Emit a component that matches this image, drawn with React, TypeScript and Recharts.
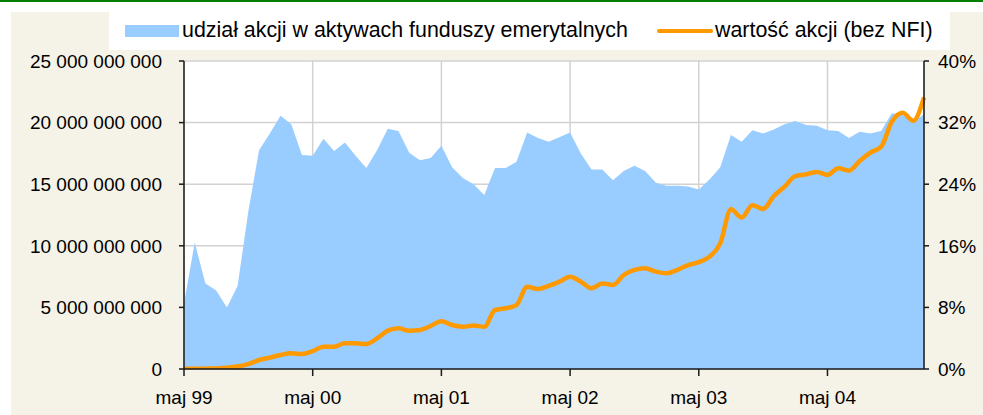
import React from "react";
import {
  ComposedChart,
  Area,
  Line,
  XAxis,
  YAxis,
  CartesianGrid,
  Legend,
} from "recharts";

const months: string[] = [
  "maj 99", "cze 99", "lip 99", "sie 99", "wrz 99", "paź 99", "lis 99", "gru 99",
  "sty 00", "lut 00", "mar 00", "kwi 00", "maj 00", "cze 00", "lip 00", "sie 00",
  "wrz 00", "paź 00", "lis 00", "gru 00", "sty 01", "lut 01", "mar 01", "kwi 01",
  "maj 01", "cze 01", "lip 01", "sie 01", "wrz 01", "paź 01", "lis 01", "gru 01",
  "sty 02", "lut 02", "mar 02", "kwi 02", "maj 02", "cze 02", "lip 02", "sie 02",
  "wrz 02", "paź 02", "lis 02", "gru 02", "sty 03", "lut 03", "mar 03", "kwi 03",
  "maj 03", "cze 03", "lip 03", "sie 03", "wrz 03", "paź 03", "lis 03", "gru 03",
  "sty 04", "lut 04", "mar 04", "kwi 04", "maj 04", "cze 04", "lip 04", "sie 04",
  "wrz 04", "paź 04", "lis 04", "gru 04", "sty 05", "lut 05",
];

// udział akcji w aktywach funduszy emerytalnych (%)
const shareOfEquities: number[] = [
  8.5, 16.4, 11.1, 10.2, 8.0, 10.8, 20.5, 28.4, 30.6, 32.9, 31.8, 27.8,
  27.7, 29.9, 28.3, 29.4, 27.7, 26.1, 28.4, 31.2, 30.9, 28.1, 27.1, 27.4,
  29.0, 26.2, 24.8, 24.0, 22.6, 26.1, 26.1, 26.9, 30.7, 30.0, 29.5, 30.1,
  30.7, 28.0, 25.9, 25.9, 24.5, 25.7, 26.4, 25.7, 24.2, 23.8, 23.8, 23.7,
  23.3, 24.6, 26.2, 30.4, 29.5, 31.0, 30.6, 31.1, 31.8, 32.2, 31.7, 31.6,
  31.0, 30.9, 30.0, 30.8, 30.6, 30.9, 33.2, 33.0, 32.1, 33.1,
];

// wartość akcji (bez NFI), mld zł
const equityValueBn: number[] = [
  0.02, 0.02, 0.03, 0.05, 0.1, 0.2, 0.4, 0.73, 0.92, 1.14, 1.27, 1.22,
  1.45, 1.81, 1.81, 2.08, 2.08, 2.03, 2.49, 3.11, 3.3, 3.11, 3.17, 3.49,
  3.88, 3.57, 3.43, 3.53, 3.43, 4.79, 4.93, 5.19, 6.68, 6.49, 6.74, 7.09,
  7.49, 7.09, 6.55, 6.95, 6.82, 7.63, 8.04, 8.17, 7.9, 7.77, 8.04, 8.44,
  8.67, 9.12, 10.2, 12.96, 12.3, 13.3, 12.99, 14.04, 14.8, 15.66, 15.8, 16.0,
  15.75, 16.29, 16.1, 16.88, 17.56, 18.04, 20.07, 20.8, 20.15, 22.05,
];

const xTicks: string[] = ["maj 99", "maj 00", "maj 01", "maj 02", "maj 03", "maj 04"];
const leftTicks: number[] = [0, 5, 10, 15, 20, 25];
const rightTicks: number[] = [0, 8, 16, 24, 32, 40];
const seriesNames: string[] = [
  "udział akcji w aktywach funduszy emerytalnych",
  "wartość akcji (bez NFI)",
];

const data = months.map((m, i) => ({
  month: m,
  share: shareOfEquities[i],
  value: equityValueBn[i],
}));

const FONT = "'Liberation Sans', Arial, sans-serif";
const FS = 19;
const LFS = 21.4;

const formatBn = (v: number) =>
  v === 0 ? "0" : String(Math.round(v * 1e9)).replace(/\B(?=(\d{3})+(?!\d))/g, " ");

const LegendContent = () => (
  <div
    style={{
      position: "relative",
      width: 841,
      height: 38,
      background: "#ffffff",
      fontFamily: FONT,
      fontSize: LFS,
      color: "#000",
    }}
  >
    <div style={{ position: "absolute", left: 16, top: 13, width: 54, height: 12, background: "#99CCFF" }} />
    <div style={{ position: "absolute", left: 73, top: 6, whiteSpace: "nowrap", lineHeight: "24px" }}>
      {seriesNames[0]}
    </div>
    <div style={{ position: "absolute", left: 548, top: 17, width: 56, height: 4, borderRadius: 2, background: "#FF9900" }} />
    <div style={{ position: "absolute", left: 606, top: 6, whiteSpace: "nowrap", lineHeight: "24px" }}>
      {seriesNames[1]}
    </div>
  </div>
);

export default function App() {
  return (
    <div
      style={{
        position: "absolute",
        left: 0,
        top: 0,
        width: 983,
        height: 415,
        background: "#ffffff",
        overflow: "hidden",
        fontFamily: FONT,
      }}
    >
      <div style={{ position: "absolute", left: 0, top: 0, width: 983, height: 2, background: "#008000" }} />
      <div style={{ position: "absolute", left: 11, top: 12, width: 972, height: 403, background: "#F5F2E7" }} />
      <div style={{ position: "absolute", left: 0, top: 0 }}>
        <ComposedChart
          width={983}
          height={415}
          data={data}
          margin={{ top: 61, right: 0, bottom: 6, left: 14 }}
        >
          <CartesianGrid
            yAxisId="val"
            fill="#ffffff"
            stroke="#D2D2D2"
            strokeWidth={1.5}
            vertical={true}
            horizontal={true}
          />
          <XAxis
            dataKey="month"
            scale="point"
            padding={{ left: 0, right: 0 }}
            ticks={xTicks}
            interval={0}
            height={40}
            tickSize={7}
            tickMargin={15}
            stroke="#000"
            axisLine={{ stroke: "#1a1a1a", strokeWidth: 1.5 }}
            tickLine={{ stroke: "#1a1a1a", strokeWidth: 1.5 }}
            tick={{ fill: "#000", fontSize: FS, fontFamily: FONT }}
          />
          <YAxis
            yAxisId="val"
            orientation="left"
            width={170}
            domain={[0, 25]}
            ticks={leftTicks}
            tickFormatter={formatBn}
            tickSize={5}
            tickMargin={17}
            axisLine={{ stroke: "#1a1a1a", strokeWidth: 1.5 }}
            tickLine={{ stroke: "#1a1a1a", strokeWidth: 1.5 }}
            tick={{ fill: "#000", fontSize: FS, fontFamily: FONT }}
            allowDataOverflow
          />
          <YAxis
            yAxisId="pct"
            orientation="right"
            width={59}
            domain={[0, 40]}
            ticks={rightTicks}
            tickFormatter={(v: number) => `${v}%`}
            tickSize={5}
            tickMargin={9}
            axisLine={{ stroke: "#1a1a1a", strokeWidth: 1.5 }}
            tickLine={{ stroke: "#1a1a1a", strokeWidth: 1.5 }}
            tick={{ fill: "#000", fontSize: FS, fontFamily: FONT }}
            allowDataOverflow
          />
          <Legend
            layout="horizontal"
            verticalAlign="middle"
            align="center"
            wrapperStyle={{ left: 109, top: 12, width: 841, height: 38 }}
            content={() => <LegendContent />}
          />
          <Area
            yAxisId="pct"
            dataKey="share"
            name={seriesNames[0]}
            type="linear"
            fill="#99CCFF"
            fillOpacity={1}
            stroke="none"
            isAnimationActive={false}
            dot={false}
            activeDot={false}
          />
          <Line
            yAxisId="val"
            dataKey="value"
            name={seriesNames[1]}
            type="monotone"
            stroke="#FF9900"
            strokeWidth={4.5}
            dot={false}
            activeDot={false}
            isAnimationActive={false}
          />
        </ComposedChart>
      </div>
    </div>
  );
}
